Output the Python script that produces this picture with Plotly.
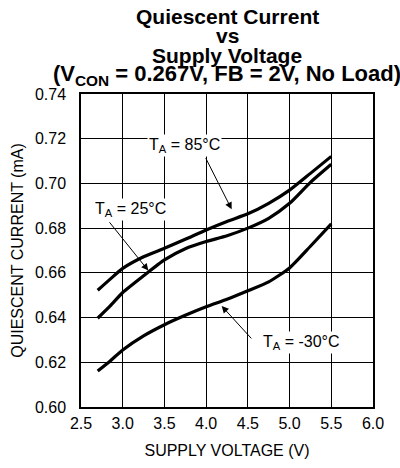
import plotly.graph_objects as go

voltage = [2.7, 2.85, 3.0, 3.25, 3.5, 3.75, 4.0, 4.25, 4.5, 4.75, 5.0, 5.25, 5.5]
current_85c = [0.6522, 0.6572, 0.6620, 0.6672, 0.6710, 0.6750, 0.6792, 0.6830, 0.6864, 0.6911, 0.6970, 0.7045, 0.7121]
current_25c = [0.6397, 0.6452, 0.6512, 0.6587, 0.6658, 0.6708, 0.6740, 0.6766, 0.6800, 0.6844, 0.6911, 0.7005, 0.7086]
current_m30c = [0.6161, 0.6206, 0.6255, 0.6318, 0.6368, 0.6410, 0.6448, 0.6482, 0.6520, 0.6560, 0.6622, 0.6719, 0.6819]

x_ticks = [2.5, 3.0, 3.5, 4.0, 4.5, 5.0, 5.5, 6.0]
y_ticks = [0.60, 0.62, 0.64, 0.66, 0.68, 0.70, 0.72, 0.74]

FONT = "Liberation Sans, Arial, sans-serif"
W, H = 400, 468
ML, MR, MT, MB = 81, 27, 94, 61

fig = go.Figure()
for ys in (current_85c, current_25c, current_m30c):
    fig.add_trace(go.Scatter(x=voltage, y=ys, mode="lines",
                             line=dict(color="black", width=3.2, shape="spline", smoothing=0.6),
                             showlegend=False, hoverinfo="skip"))

fig.update_layout(
    width=W, height=H,
    margin=dict(l=ML, r=MR, t=MT, b=MB),
    paper_bgcolor="white", plot_bgcolor="white",
    font=dict(family=FONT, color="black", size=16),
)
fig.update_xaxes(range=[2.5, 6.0], tickvals=x_ticks, ticktext=[f"{v:.1f}" for v in x_ticks],
                 showgrid=True, gridcolor="black", gridwidth=1,
                 showline=True, linecolor="black", linewidth=1.5, mirror=True,
                 zeroline=False, ticks="", tickfont=dict(size=16), automargin=False,
                 ticklabelstandoff=1,
                 title=dict(text="SUPPLY VOLTAGE (V)", font=dict(size=16), standoff=14))
fig.update_yaxes(range=[0.60, 0.74], tickvals=y_ticks, ticktext=[f"{v:.2f}" for v in y_ticks],
                 showgrid=True, gridcolor="black", gridwidth=1,
                 showline=True, linecolor="black", linewidth=1.5, mirror=True,
                 zeroline=False, ticks="", tickfont=dict(size=16), automargin=False,
                 ticklabelstandoff=10,
                 title=dict(text="QUIESCENT CURRENT (mA)", font=dict(size=16), standoff=7))

# Title lines (pixel centres from the top of the figure, font size)
title_lines = [
    ("Quiescent Current", 16, 21),
    ("vs", 35, 21),
    ("Supply Voltage", 55, 21),
    ("(V<sub>CON</sub> = 0.267V, FB = 2V, No Load)", 75, 22),
]
plot_h = H - MT - MB
for txt, py, fs in title_lines:
    fig.add_annotation(text=f"<b>{txt}</b>", xref="paper", yref="paper",
                       x=0.5, y=(H - MB - py) / plot_h, xanchor="center", yanchor="middle",
                       showarrow=False, font=dict(size=fs, family=FONT, color="black"))

# Curve labels
labels = [
    ("T<sub>A</sub> = 85°C", 3.735, 0.7170),
    ("T<sub>A</sub> = 25°C", 3.099, 0.6885),
    ("T<sub>A</sub> = -30°C", 5.141, 0.6289),
]
for txt, tx, ty in labels:
    fig.add_annotation(text=txt, x=tx, y=ty, xref="x", yref="y", showarrow=False,
                       bgcolor="white", font=dict(size=16, family=FONT, color="black"),
                       borderpad=1)

# Pointer arrows: (tail x, tail y, head x, head y)
arrows = [
    (3.986, 0.7120, 4.306, 0.6884),
    (2.827, 0.6833, 3.307, 0.6610),
    (4.558, 0.6300, 4.186, 0.6452),
]
for sx, sy, hx, hy in arrows:
    fig.add_annotation(x=hx, y=hy, ax=sx, ay=sy, xref="x", yref="y", axref="x", ayref="y",
                       text="", showarrow=True, arrowhead=2, arrowsize=1.4, arrowwidth=1,
                       arrowcolor="black")

fig.write_html("out.html", config={"displayModeBar": False},
               post_script="document.body.style.margin='0';")
